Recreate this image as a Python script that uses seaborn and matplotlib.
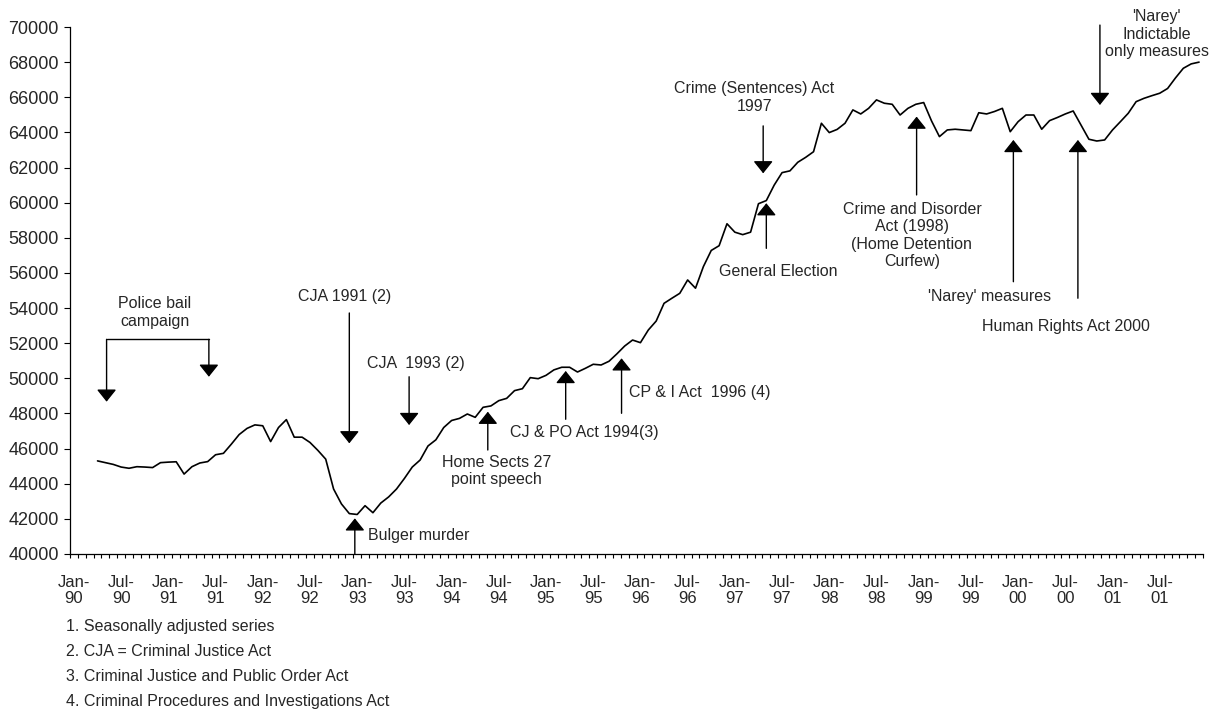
import numpy as np
import pandas as pd
import matplotlib
matplotlib.use("Agg")
import matplotlib.pyplot as plt
import seaborn as sns

# ------------------------------------------------------------
# Data - monthly series (seasonally adjusted), Apr-90 .. Dec-01
# ------------------------------------------------------------
axis_start = "1990-01"
axis_end = "2001-12"
series_start = "1990-04"

values = [
    45300, 45200, 45100, 44950, 44880, 44970, 44950, 44920, 45200, 45230,
    45250, 44550, 44970, 45180, 45260, 45650, 45730, 46250, 46800, 47150,
    47350, 47300, 46400, 47200, 47650, 46650, 46650, 46350, 45900, 45400,
    43700, 42850, 42300, 42250, 42750, 42350, 42900, 43250, 43700, 44300,
    44950, 45350, 46150, 46500, 47200, 47600, 47720, 47970, 47780, 48350,
    48430, 48730, 48860, 49300, 49410, 50040, 49980, 50170, 50480, 50630,
    50630, 50360, 50570, 50800, 50760, 50970, 51390, 51840, 52180, 52030,
    52750, 53260, 54270, 54560, 54840, 55600, 55130, 56360, 57280, 57550,
    58800, 58320, 58180, 58320, 59940, 60120, 61000, 61710, 61810, 62300,
    62580, 62900, 64520, 63990, 64170, 64520, 65280, 65050, 65370, 65850,
    65660, 65600, 64990, 65370, 65600, 65700, 64650, 63760, 64140, 64180,
    64140, 64100, 65120, 65050, 65190, 65370, 64040, 64610, 64990, 64990,
    64180, 64670, 64850, 65050, 65220, 64420, 63610, 63510, 63570, 64140,
    64610, 65090, 65750, 65940, 66090, 66230, 66500, 67100, 67650, 67900, 68000,
]

y_ticks = list(range(40000, 70001, 2000))

footnotes = [
    "1. Seasonally adjusted series",
    "2. CJA = Criminal Justice Act",
    "3. Criminal Justice and Public Order Act",
    "4. Criminal Procedures and Investigations Act",
]

# arrows: (x in months from Jan-90, y base, y tip)
arrows = [
    (4.15, 52220, 48670),    # police bail (left)
    (17.15, 52220, 50090),   # police bail (right)
    (35.0, 53720, 46300),    # CJA 1991
    (42.6, 50090, 47340),    # CJA 1993
    (35.7, 40000, 42030),    # Bulger murder
    (52.6, 45920, 48100),    # Home Sec speech
    (62.5, 47670, 50420),    # CJ & PO Act
    (69.6, 48010, 51140),    # CP & I Act
    (88.0, 57400, 59970),    # General Election
    (87.6, 64370, 61670),    # Crime (Sentences) Act
    (107.1, 60440, 64900),   # Crime and Disorder Act
    (119.4, 55500, 63570),   # Narey measures
    (127.6, 54560, 63570),   # Human Rights Act
    (130.4, 70110, 65560),   # Narey indictable only
]

# labels: (text, x, y, ha)
labels = [
    ("Police bail\ncampaign", 10.3, 53750, "center"),
    ("CJA 1991 (2)", 34.4, 54650, "center"),
    ("CJA  1993 (2)", 43.5, 50870, "center"),
    ("Bulger murder", 37.4, 41080, "left"),
    ("Home Sects 27\npoint speech", 53.7, 44730, "center"),
    ("CJ & PO Act 1994(3)", 55.4, 46900, "left"),
    ("CP & I Act  1996 (4)", 70.6, 49180, "left"),
    ("General Election", 89.5, 56110, "center"),
    ("Crime (Sentences) Act\n1997", 86.5, 65990, "center"),
    ("Crime and Disorder\nAct (1998)\n(Home Detention\nCurfew)", 106.5, 58140, "center"),
    ("'Narey' measures", 116.4, 54650, "center"),
    ("Human Rights Act 2000", 126.1, 52940, "center"),
    ("'Narey'\nIndictable\nonly measures", 137.6, 69600, "center"),
]

# ------------------------------------------------------------
# Build frame
# ------------------------------------------------------------
t0 = pd.Timestamp(axis_start)
dates = pd.date_range(series_start, periods=len(values), freq="MS")
df = pd.DataFrame({"date": dates, "value": values})
df["pos"] = (df["date"].dt.year - t0.year) * 12 + (df["date"].dt.month - t0.month)

axis_months = pd.date_range(axis_start, axis_end, freq="MS")
n_months = len(axis_months)
tick_pos = np.arange(0, n_months, 6)
tick_lab = [d.strftime("%b-\n%y") for d in axis_months[tick_pos]]

# ------------------------------------------------------------
# Plot
# ------------------------------------------------------------
sns.set_style("ticks")
plt.rcParams["font.family"] = ["Liberation Sans", "DejaVu Sans"]

fig = plt.figure(figsize=(12.16, 7.09), dpi=100)
ax = fig.add_axes([70 / 1216, (709 - 554) / 709, (1203 - 70) / 1216, (554 - 27) / 709])

sns.lineplot(data=df, x="pos", y="value", color="black", lw=1.2, ax=ax)

ax.set_xlim(-0.5, n_months - 0.5)
ax.set_ylim(40000, 70000)
ax.set_yticks(y_ticks)
ax.set_yticklabels([str(v) for v in y_ticks], fontsize=13)
ax.set_xticks(tick_pos)
ax.set_xticklabels(tick_lab, fontsize=12, linespacing=1.1)
ax.set_xticks(np.arange(-0.5, n_months, 1), minor=True)
ax.tick_params(axis="x", which="major", length=0, pad=15)
ax.tick_params(axis="x", which="minor", length=3, width=0.8, direction="out", color="black")
ax.tick_params(axis="y", length=4, width=0.8, pad=4, color="black")
ax.set_xlabel("")
ax.set_ylabel("")
sns.despine(ax=ax)
for s in ["left", "bottom"]:
    ax.spines[s].set_color("black")
    ax.spines[s].set_linewidth(0.9)

# police bail bracket
ax.plot([arrows[0][0], arrows[1][0]], [arrows[0][1], arrows[1][1]], color="black", lw=1.0)

for x, y0, y1 in arrows:
    ax.annotate("", xy=(x, y1), xytext=(x, y0),
                arrowprops=dict(arrowstyle="-|>,head_length=0.75,head_width=0.6",
                                mutation_scale=10, color="black", lw=1.0,
                                shrinkA=0, shrinkB=0),
                annotation_clip=False)

for txt, x, y, ha in labels:
    ax.text(x, y, txt, ha=ha, va="center", fontsize=11.5, linespacing=1.2, clip_on=False)

for i, note in enumerate(footnotes):
    fig.text(66 / 1216, 1 - (627 + i * 24.7) / 709, note, fontsize=11.5, va="center")

plt.savefig("out.png", dpi=100)
